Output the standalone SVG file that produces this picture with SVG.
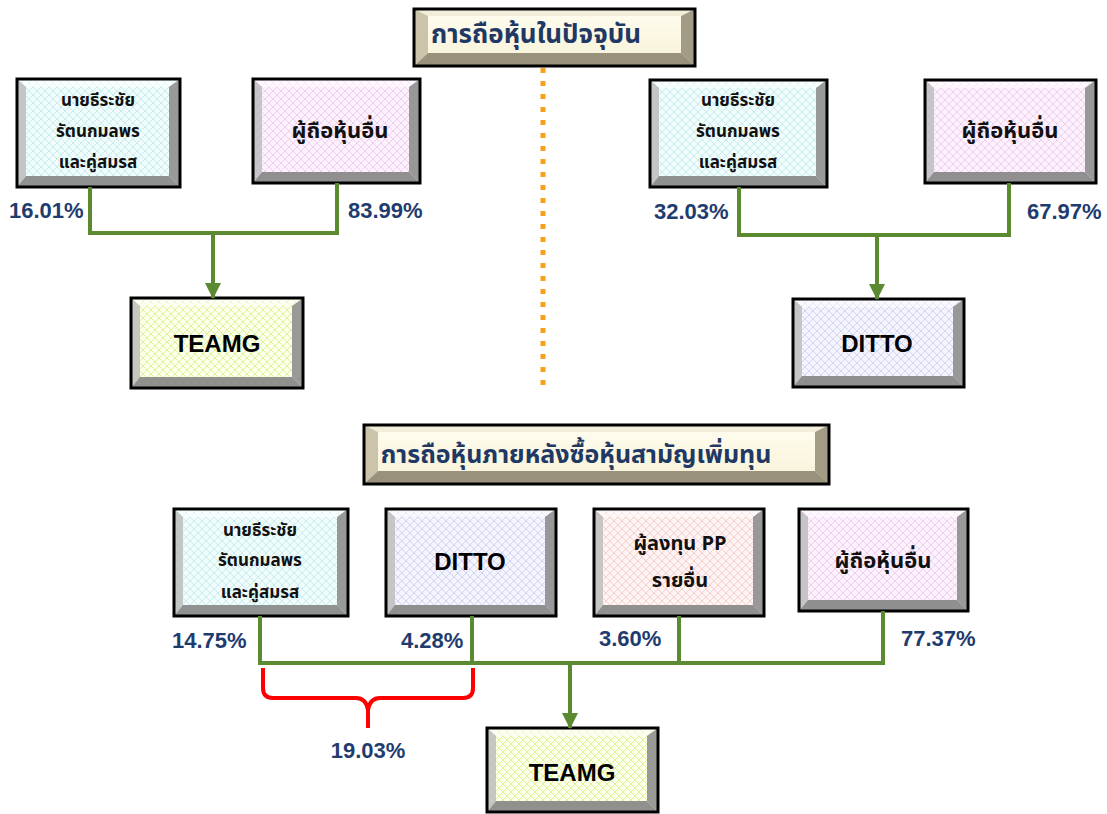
<svg xmlns="http://www.w3.org/2000/svg" width="1107" height="814" viewBox="0 0 1107 814">
<style>
.th{font-family:"Noto Sans Thai","Tahoma","Leelawadee UI","Liberation Sans",sans-serif;font-weight:bold;fill:#111;text-anchor:middle}
.ttl{font-family:"Noto Sans Thai","Tahoma","Leelawadee UI","Liberation Sans",sans-serif;font-weight:bold;fill:#1F3864;text-anchor:middle;font-size:26px}
.nm{font-family:"Liberation Sans",Arial,sans-serif;font-weight:bold;fill:#000;text-anchor:middle;font-size:24px}
.pct{font-family:"Liberation Sans",Arial,sans-serif;font-weight:bold;fill:#1F3C6E;font-size:22px}
.bt{fill:#FFFFFF;opacity:.55}
.bl{fill:#BDBDBD;opacity:.85}
.br{fill:#8F8F8F;opacity:.9}
.bb{fill:#858585;opacity:.9}
.tbt{fill:#F2EEDA}
.tbl{fill:#CBC4AA}
.tbr{fill:#A29B85}
.tbb{fill:#99917B}
.bd{fill:none;stroke:#000;stroke-width:3}
.cn{fill:none;stroke:#5B8A30;stroke-width:4}
</style>
<defs>
<pattern id="pCy" width="8" height="8" patternUnits="userSpaceOnUse"><rect width="8" height="8" fill="#F1FCFC"/><path d="M0,0 L8,8 M8,0 L0,8" stroke="#BFEAEA" stroke-width="0.8"/></pattern>
<pattern id="pPk" width="8" height="8" patternUnits="userSpaceOnUse"><rect width="8" height="8" fill="#FCF2FC"/><path d="M0,0 L8,8 M8,0 L0,8" stroke="#F0C6F0" stroke-width="0.8"/></pattern>
<pattern id="pYg" width="8" height="8" patternUnits="userSpaceOnUse"><rect width="8" height="8" fill="#FBFFEC"/><path d="M0,0 L8,8 M8,0 L0,8" stroke="#D9F08A" stroke-width="0.9"/></pattern>
<pattern id="pLv" width="8" height="8" patternUnits="userSpaceOnUse"><rect width="8" height="8" fill="#F4F4FD"/><path d="M0,0 L8,8 M8,0 L0,8" stroke="#CACAF0" stroke-width="0.8"/></pattern>
<pattern id="pRs" width="8" height="8" patternUnits="userSpaceOnUse"><rect width="8" height="8" fill="#FFF4F4"/><path d="M0,0 L8,8 M8,0 L0,8" stroke="#F2C4C4" stroke-width="0.8"/></pattern>
<linearGradient id="gCr" x1="0" y1="0" x2="0" y2="1"><stop offset="0" stop-color="#FFFDF0"/><stop offset="1" stop-color="#F7F1D6"/></linearGradient>
<marker id="ar" markerUnits="userSpaceOnUse" markerWidth="16" markerHeight="16" viewBox="0 0 16 16" refX="15" refY="8" orient="auto"><path d="M0,0 L16,8 L0,16 Z" fill="#5B8A30"/></marker>
</defs>
<rect width="1107" height="814" fill="#FFFFFF"/>

<path d="M543,68 V388" stroke="#F7A11A" stroke-width="5" stroke-dasharray="5 8" fill="none"/>

<g id="title1" transform="translate(414,9)">
<rect width="281" height="57" fill="url(#gCr)"/>
<path class="tbt" d="M0,0 H281 L267,7 H14 Z"/>
<path class="tbl" d="M0,0 L14,7 V44 L0,57 Z"/>
<path class="tbr" d="M281,0 V57 L267,44 V7 Z"/>
<path class="tbb" d="M0,57 L14,44 H267 L281,57 Z"/>
<rect class="bd" width="281" height="57"/>
<text class="ttl" x="122" y="34">การถือหุ้นในปัจจุบัน</text>
</g>

<g id="title2" transform="translate(364,425)">
<rect width="465" height="59" fill="url(#gCr)"/>
<path class="tbt" d="M0,0 H465 L451,7 H14 Z"/>
<path class="tbl" d="M0,0 L14,7 V46 L0,59 Z"/>
<path class="tbr" d="M465,0 V59 L451,46 V7 Z"/>
<path class="tbb" d="M0,59 L14,46 H451 L465,59 Z"/>
<rect class="bd" width="465" height="59"/>
<text class="ttl" x="212" y="38" style="font-size:25px">การถือหุ้นภายหลังซื้อหุ้นสามัญเพิ่มทุน</text>
</g>

<g id="n1" transform="translate(17,79)">
<rect width="163" height="108" fill="url(#pCy)"/>
<path class="bt" d="M0,0 H163 L152,8 H9 Z"/>
<path class="bl" d="M0,0 L9,8 V97 L0,108 Z"/>
<path class="br" d="M163,0 V108 L152,97 V8 Z"/>
<path class="bb" d="M0,108 L9,97 H152 L163,108 Z"/>
<rect class="bd" width="163" height="108"/>
<text class="th" font-size="17" x="81" y="27">นายธีระชัย</text>
<text class="th" font-size="17" x="81" y="58">รัตนกมลพร</text>
<text class="th" font-size="17" x="81" y="89">และคู่สมรส</text>
</g>

<g id="n2" transform="translate(253,79)">
<rect width="167" height="104" fill="url(#pPk)"/>
<path class="bt" d="M0,0 H167 L156,8 H9 Z"/>
<path class="bl" d="M0,0 L9,8 V93 L0,104 Z"/>
<path class="br" d="M167,0 V104 L156,93 V8 Z"/>
<path class="bb" d="M0,104 L9,93 H156 L167,104 Z"/>
<rect class="bd" width="167" height="104"/>
<text class="th" font-size="22" x="87" y="59">ผู้ถือหุ้นอื่น</text>
</g>

<g id="teamg1" transform="translate(131,298)">
<rect width="172" height="90" fill="url(#pYg)"/>
<path class="bt" d="M0,0 H172 L161,8 H9 Z"/>
<path class="bl" d="M0,0 L9,8 V79 L0,90 Z"/>
<path class="br" d="M172,0 V90 L161,79 V8 Z"/>
<path class="bb" d="M0,90 L9,79 H161 L172,90 Z"/>
<rect class="bd" width="172" height="90"/>
<text class="nm" x="86" y="54">TEAMG</text>
</g>

<g id="n3" transform="translate(650,80)">
<rect width="177" height="107" fill="url(#pCy)"/>
<path class="bt" d="M0,0 H177 L166,8 H9 Z"/>
<path class="bl" d="M0,0 L9,8 V96 L0,107 Z"/>
<path class="br" d="M177,0 V107 L166,96 V8 Z"/>
<path class="bb" d="M0,107 L9,96 H166 L177,107 Z"/>
<rect class="bd" width="177" height="107"/>
<text class="th" font-size="17" x="88" y="26">นายธีระชัย</text>
<text class="th" font-size="17" x="88" y="57">รัตนกมลพร</text>
<text class="th" font-size="17" x="88" y="88">และคู่สมรส</text>
</g>

<g id="n4" transform="translate(925,80)">
<rect width="171" height="103" fill="url(#pPk)"/>
<path class="bt" d="M0,0 H171 L160,8 H9 Z"/>
<path class="bl" d="M0,0 L9,8 V92 L0,103 Z"/>
<path class="br" d="M171,0 V103 L160,92 V8 Z"/>
<path class="bb" d="M0,103 L9,92 H160 L171,103 Z"/>
<rect class="bd" width="171" height="103"/>
<text class="th" font-size="22" x="85" y="58">ผู้ถือหุ้นอื่น</text>
</g>

<g id="ditto1" transform="translate(793,299)">
<rect width="171" height="88" fill="url(#pLv)"/>
<path class="bt" d="M0,0 H171 L160,8 H9 Z"/>
<path class="bl" d="M0,0 L9,8 V77 L0,88 Z"/>
<path class="br" d="M171,0 V88 L160,77 V8 Z"/>
<path class="bb" d="M0,88 L9,77 H160 L171,88 Z"/>
<rect class="bd" width="171" height="88"/>
<text class="nm" x="84" y="53">DITTO</text>
</g>

<g id="na" transform="translate(174,509)">
<rect width="174" height="107" fill="url(#pCy)"/>
<path class="bt" d="M0,0 H174 L163,8 H9 Z"/>
<path class="bl" d="M0,0 L9,8 V96 L0,107 Z"/>
<path class="br" d="M174,0 V107 L163,96 V8 Z"/>
<path class="bb" d="M0,107 L9,96 H163 L174,107 Z"/>
<rect class="bd" width="174" height="107"/>
<text class="th" font-size="17" x="86" y="27">นายธีระชัย</text>
<text class="th" font-size="17" x="86" y="57">รัตนกมลพร</text>
<text class="th" font-size="17" x="86" y="89">และคู่สมรส</text>
</g>

<g id="ditto2" transform="translate(386,509)">
<rect width="170" height="107" fill="url(#pLv)"/>
<path class="bt" d="M0,0 H170 L159,8 H9 Z"/>
<path class="bl" d="M0,0 L9,8 V96 L0,107 Z"/>
<path class="br" d="M170,0 V107 L159,96 V8 Z"/>
<path class="bb" d="M0,107 L9,96 H159 L170,107 Z"/>
<rect class="bd" width="170" height="107"/>
<text class="nm" x="84" y="61">DITTO</text>
</g>

<g id="nc" transform="translate(594,509)">
<rect width="170" height="107" fill="url(#pRs)"/>
<path class="bt" d="M0,0 H170 L159,8 H9 Z"/>
<path class="bl" d="M0,0 L9,8 V96 L0,107 Z"/>
<path class="br" d="M170,0 V107 L159,96 V8 Z"/>
<path class="bb" d="M0,107 L9,96 H159 L170,107 Z"/>
<rect class="bd" width="170" height="107"/>
<text class="th" font-size="20" x="86" y="41">ผู้ลงทุน PP</text>
<text class="th" font-size="20" x="86" y="78">รายอื่น</text>
</g>

<g id="nd" transform="translate(799,509)">
<rect width="169" height="102" fill="url(#pPk)"/>
<path class="bt" d="M0,0 H169 L158,8 H9 Z"/>
<path class="bl" d="M0,0 L9,8 V91 L0,102 Z"/>
<path class="br" d="M169,0 V102 L158,91 V8 Z"/>
<path class="bb" d="M0,102 L9,91 H158 L169,102 Z"/>
<rect class="bd" width="169" height="102"/>
<text class="th" font-size="22" x="84" y="59">ผู้ถือหุ้นอื่น</text>
</g>

<g id="teamg2" transform="translate(487,728)">
<rect width="171" height="84" fill="url(#pYg)"/>
<path class="bt" d="M0,0 H171 L160,8 H9 Z"/>
<path class="bl" d="M0,0 L9,8 V73 L0,84 Z"/>
<path class="br" d="M171,0 V84 L160,73 V8 Z"/>
<path class="bb" d="M0,84 L9,73 H160 L171,84 Z"/>
<rect class="bd" width="171" height="84"/>
<text class="nm" x="85" y="53">TEAMG</text>
</g>

<g id="connectors">
<path class="cn" d="M90,187 V233 H337 V183"/>
<path class="cn" d="M213,233 V298" marker-end="url(#ar)"/>
<path class="cn" d="M739,187 V235 H1011"/>
<path class="cn" d="M1009,183 V235"/>
<path class="cn" d="M877,235 V299" marker-end="url(#ar)"/>
<path class="cn" d="M260,616 V663 H885"/>
<path class="cn" d="M472,616 V663"/>
<path class="cn" d="M679,616 V663"/>
<path class="cn" d="M883,611 V663"/>
<path class="cn" d="M570,663 V728" marker-end="url(#ar)"/>
<path d="M263,668 V688 Q263,698 273,698 H356 Q366,698 368,710 V728 M368,710 Q370,698 380,698 H463 Q473,698 473,688 V668" fill="none" stroke="#FF0000" stroke-width="4"/>
</g>

<g id="labels">
<text class="pct" x="9" y="218">16.01%</text>
<text class="pct" x="348" y="218">83.99%</text>
<text class="pct" x="654" y="219">32.03%</text>
<text class="pct" x="1027" y="219">67.97%</text>
<text class="pct" x="172" y="648">14.75%</text>
<text class="pct" x="401" y="648">4.28%</text>
<text class="pct" x="599" y="646">3.60%</text>
<text class="pct" x="901" y="646">77.37%</text>
<text class="pct" x="368" y="758" text-anchor="middle">19.03%</text>
</g>
</svg>
